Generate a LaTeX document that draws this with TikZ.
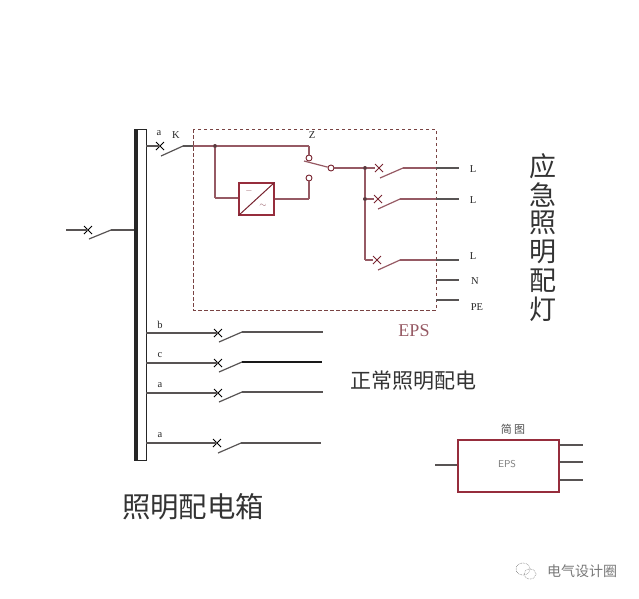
\documentclass[tikz,border=0pt]{standalone}
\usepackage{amsmath,amssymb}
\usepackage{fontspec}
\setmainfont{Liberation Serif}
\newfontfamily\cjk{Noto Sans CJK SC}
\usetikzlibrary{shapes.misc,positioning}

\definecolor{wirered}{RGB}{150,90,100}
\definecolor{boxred}{RGB}{150,45,60}
\definecolor{wiregray}{RGB}{88,84,84}
\definecolor{markgray}{RGB}{120,120,120}

\tikzset{
  brk/.style={cross out,draw,inner sep=0pt,minimum size=7pt,line width=1pt},
  dot/.style={circle,fill=wirered!60!black,inner sep=0pt,minimum size=4pt},
  ring/.style={circle,draw=boxred!80!black,fill=white,inner sep=0pt,minimum size=6pt,line width=0.9pt},
  lab/.style={inner sep=0pt,font=\fontsize{10.5}{12}\selectfont,text=black!85},
  wire/.style={line width=1.2pt,wiregray},
  rwire/.style={line width=1.2pt,wirered},
  cjklab/.style={inner sep=0pt,text=black!80}
}

\begin{document}
\begin{tikzpicture}[x=1pt,y=-1pt]
    \useasboundingbox (0,0) rectangle (639,598);

    % draw busbar
    \draw[line width=1pt,black!85] (134.5,129) rectangle (146,460);
    \draw[line width=3.5pt,black!85] (136,129) -- (136,460);

    % draw incoming feeder
    \coordinate (inl) at (66,230);
    \node[brk] (inq) at (88,230) {};
    \coordinate (inb) at (89,239);
    \coordinate (ink) at (111,230);
    \coordinate (inr) at (134,230);
    \draw[wire] (inl) -- (inq.center);
    \draw[wire] (inb) -- (ink);
    \draw[wire] (ink) -- (inr);

    % draw outgoing feeders
    \foreach \name/\y/\t/\xq/\yl/\len in {b/333/b/218/332/323,c/363/c/218/362/322,d/393/a/218/392/323,e/443/a/217/443/321}{
      \coordinate (\name s) at (146,\y);
      \node[brk] (\name q) at (\xq,\y) {};
      \coordinate (\name b) at (\xq+1,\yl+10);
      \coordinate (\name k) at (\xq+24,\yl);
      \coordinate (\name r) at (\len,\yl);
      \draw[wire] (\name s) -- (\name q.center);
      \draw[wire] (\name b) -- (\name k);
      \draw[wire] (\name k) -- (\name r);
      \node[lab] (\name t) at (160,\y-8) {\t};
    }
    \draw[line width=2.2pt,black!90] (ck) -- (cr);

    % draw EPS frame
    \draw[line width=1pt,wiregray!80!red,dash pattern=on 3.5pt off 2.5pt] (193,129) rectangle (436,310);

    % draw supply into EPS
    \coordinate (as) at (146,146);
    \node[brk] (aq) at (160,146) {};
    \coordinate (ab) at (161,156);
    \coordinate (ak) at (183,146);
    \coordinate (af) at (193,146);
    \draw[wire] (as) -- (aq.center);
    \draw[wire] (ab) -- (ak);
    \draw[wire] (ak) -- (af);

    % draw converter branch
    \node[dot] (tap) at (215,146) {};
    \node[draw=boxred,line width=1.1pt,fill=white,minimum width=35pt,minimum height=32pt,inner sep=0pt] (conv) at (256.5,199) {};
    \draw[boxred!80!black,line width=1pt] (conv.south west) -- (conv.north east);
    \node[inner sep=0pt,font=\fontsize{9}{9}\selectfont,text=wirered] (convdc) at (249,191) {$-$};
    \node[inner sep=0pt,font=\fontsize{9}{9}\selectfont,text=wirered] (convac) at (263,206) {$\sim$};
    \node[ring] (zup) at (309,158) {};
    \node[ring] (zdn) at (309,178) {};
    \node[ring] (zout) at (331,168) {};
    \coordinate (zarm) at (304,161);
    \coordinate (ztop) at (309,146);
    \coordinate (zbot) at (309,199);
    \coordinate (lowc) at (215,198);
    \coordinate (convl) at (conv.west |- lowc);
    \coordinate (convr) at (conv.east |- zbot);
    \foreach \a/\b in {af/tap,tap/ztop,ztop/zup,tap/lowc,lowc/convl,convr/zbot,zbot/zdn,zarm/zout}
      \draw[rwire] (\a) -- (\b);

    % draw EPS outputs
    \node[dot] (bus1) at (365,168) {};
    \node[dot] (bus2) at (365,199) {};
    \coordinate (bus3) at (365,260);
    \node[brk,boxred!80!black] (l1q) at (379,168) {};
    \node[brk,boxred!80!black] (l2q) at (378,199) {};
    \node[brk,boxred!80!black] (l3q) at (377,260) {};
    \coordinate (l1b) at (380,178);
    \coordinate (l1k) at (403,168);
    \coordinate (l2b) at (378,209);
    \coordinate (l2k) at (400,199);
    \coordinate (l3b) at (378,270);
    \coordinate (l3k) at (400,260);
    \coordinate (l1f) at (436,168);
    \coordinate (l2f) at (436,199);
    \coordinate (l3f) at (436,260);
    \coordinate (l1r) at (459,168);
    \coordinate (l2r) at (459,199);
    \coordinate (l3r) at (459,260);
    \coordinate (nf) at (436,280);
    \coordinate (nr) at (459,280);
    \coordinate (pef) at (436,300);
    \coordinate (per) at (459,300);
    \foreach \a/\b in {zout/bus1,bus1/l1q,bus1/bus2,bus2/bus3,bus3/l3q,bus2/l2q,l1b/l1k,l1k/l1f,l2b/l2k,l2k/l2f,l3b/l3k,l3k/l3f}
      \draw[rwire] (\a) -- (\b);
    \foreach \a/\b in {l1f/l1r,l2f/l2r,l3f/l3r,nf/nr,pef/per}
      \draw[wire] (\a) -- (\b);

    % draw labels
    \node[lab] (ta) at (159,133) {a};
    \node[lab] (tk) at (176,135) {K};
    \node[lab] (tz) at (312,135) {Z};
    \node[lab] (tl1) at (473,169) {L};
    \node[lab] (tl2) at (473,200) {L};
    \node[lab] (tl3) at (473,256) {L};
    \node[lab] (tn) at (475,281) {N};
    \node[lab] (tpe) at (477,307) {PE};
    \node[inner sep=0pt,font=\fontsize{18}{20}\selectfont,text=wirered] (teps) at (414,331) {EPS};
    \foreach \c [count=\i] in {应,急,照,明,配,灯}
      \node[cjklab,font=\cjk\fontsize{27}{28}\selectfont] (tlamp\i) at (543,166+28.6*\i-28.6) {\c};
    \node[cjklab,font=\cjk\fontsize{21}{24}\selectfont] (tnorm) at (413,381) {正常照明配电};
    \node[cjklab,font=\cjk\fontsize{28.4}{32}\selectfont] (tpanel) at (193,507) {照明配电箱};

    % draw small sketch
    \node[draw=boxred,line width=1.2pt,minimum width=101pt,minimum height=52pt,inner sep=0pt] (sk) at (508.5,466) {};
    \node[inner sep=0pt,font=\fontsize{10}{12}\selectfont\sffamily,text=markgray] (skt) at (507,464) {EPS};
    \node[inner sep=0pt,font=\cjk\fontsize{11}{12}\selectfont,text=black!70] (skh) at (513,429) {简 图};
    \coordinate (skin) at (435,465);
    \coordinate (sko1) at (583,445);
    \coordinate (sko2) at (583,462);
    \coordinate (sko3) at (583,480);
    \draw[wire] (skin) -- (sk.west |- skin);
    \foreach \o in {sko1,sko2,sko3}
      \draw[wire] (sk.east |- \o) -- (\o);

    % draw watermark
    \node[inner sep=0pt,font=\cjk\fontsize{14}{16}\selectfont,text=markgray] (wm) at (582,571) {电气设计圈};
    \draw[markgray,line width=0.6pt,densely dotted] (523,569) ellipse (7pt and 6pt);
    \draw[markgray,line width=0.6pt,densely dotted] (530,574) ellipse (6pt and 5pt);
\end{tikzpicture}
\end{document}
